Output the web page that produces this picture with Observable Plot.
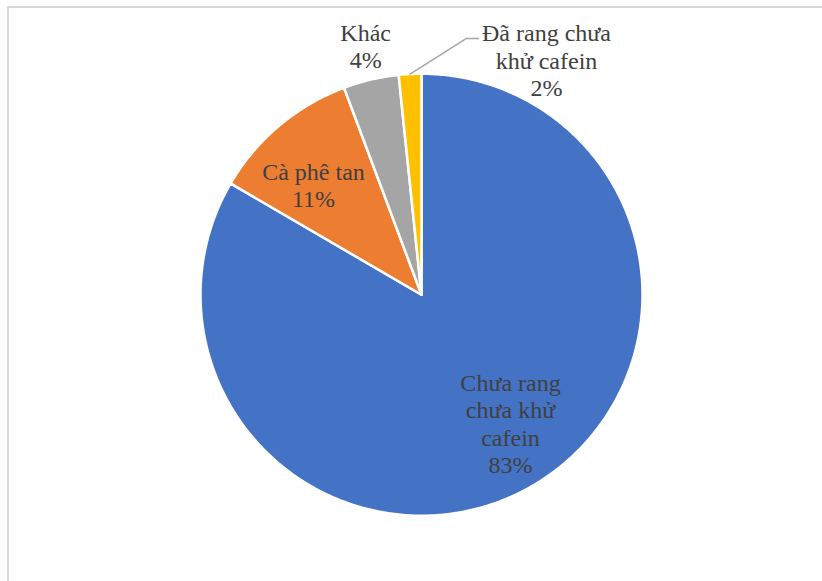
<!DOCTYPE html>
<html><head><meta charset="utf-8">
<script src="https://cdn.jsdelivr.net/npm/d3@7"></script>
<script src="https://cdn.jsdelivr.net/npm/@observablehq/plot@0.6"></script>
<style>
html,body{margin:0;padding:0;background:#fff;overflow:hidden;width:822px;height:581px;}
#chart{position:absolute;left:0;top:0;width:822px;height:581px;}
#frame{position:absolute;left:7px;top:6px;width:900px;height:700px;border-left:2px solid #d9d9d9;border-top:2px solid #d9d9d9;pointer-events:none;}
</style></head><body>
<div id="chart"></div>
<div id="frame"></div>
<script>
// Data
const categories = ["Chưa rang chưa khử cafein", "Cà phê tan", "Khác", "Đã rang chưa khử cafein"];
const labelLines = ["Chưa rang\nchưa khử\ncafein", "Cà phê tan", "Khác", "Đã rang chưa\nkhử cafein"];
const shares = [83.4, 10.9, 4.05, 1.65];
const colors = ["#4472C4", "#ED7D31", "#A5A5A5", "#FFC000"];

// Layout (not data)
const W = 822, H = 581;
const cx = 421, cy = 294.25, R = 221;
// label placement: [radius factor, angle shift in degrees from slice middle]
const placement = [[0.708, -4.8], [0.698, -4.3], [1.156, 0.6], [1.2036, 31.0]];

const total = d3.sum(shares);
const pie = d3.pie().sort(null).startAngle(0).endAngle(2 * Math.PI)(shares);
const pt = (r, a) => ({x: cx + r * Math.sin(a), y: cy - r * Math.cos(a)});

const slicePts = [];
pie.forEach((s, i) => {
  const n = Math.max(4, Math.ceil((s.endAngle - s.startAngle) / 0.01));
  slicePts.push({...pt(0, 0), k: i, color: colors[i]});
  for (let j = 0; j <= n; j++) {
    const a = s.startAngle + (s.endAngle - s.startAngle) * j / n;
    slicePts.push({...pt(R, a), k: i, color: colors[i]});
  }
  slicePts.push({...pt(0, 0), k: i, color: colors[i]});
});

const fmt = d3.format(".0%");
const labels = pie.map((s, i) => {
  const mid = (s.startAngle + s.endAngle) / 2 + placement[i][1] * Math.PI / 180;
  const p = pt(R * placement[i][0], mid);
  return {...p, text: labelLines[i] + "\n" + fmt(shares[i] / total), cat: categories[i]};
});

// leader line for the smallest slice
const ys = pie[3];
const yMid = (ys.startAngle + ys.endAngle) / 2;
const lab = labels[3];
const leader = [pt(R, yMid), {x: lab.x - 80, y: lab.y - 21.5}, {x: lab.x - 68, y: lab.y - 21.5}];

const chart = Plot.plot({
  width: W, height: H,
  margin: 0,
  x: {domain: [0, W], range: [0, W], axis: null},
  y: {domain: [0, H], range: [0, H], axis: null},
  style: {background: "transparent"},
  marks: [
    Plot.line(slicePts, {x: "x", y: "y", z: "k", fill: "color", stroke: "white", strokeWidth: 2.5, strokeLinejoin: "round", curve: "linear"}),
    Plot.line(leader, {x: "x", y: "y", stroke: "#A5A5A5", strokeWidth: 1.5}),
    Plot.text(labels, {x: "x", y: "y", text: "text", fontSize: 24, lineHeight: 1.14, fill: "#404040",
      fontFamily: "Liberation Serif", textAnchor: "middle", lineAnchor: "middle"})
  ]
});
document.getElementById("chart").appendChild(chart);
</script>
</body></html>
